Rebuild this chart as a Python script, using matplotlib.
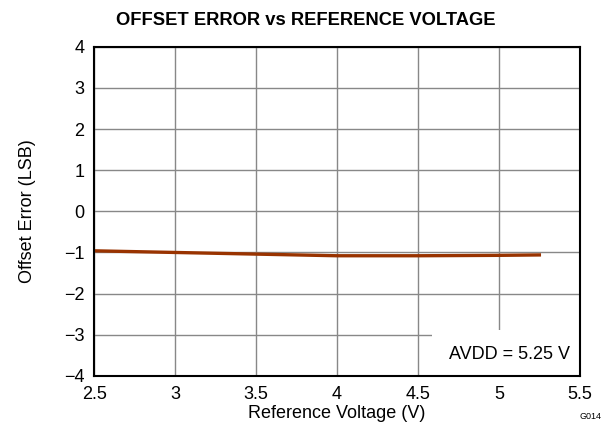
import matplotlib
matplotlib.use("Agg")
import matplotlib.pyplot as plt
from matplotlib.patches import Rectangle

plt.rcParams["font.family"] = ["Liberation Sans", "DejaVu Sans"]

ref_voltage = [2.5, 3.0, 3.5, 4.0, 4.5, 5.0, 5.25]
offset_error = [-0.96, -1.0, -1.04, -1.08, -1.08, -1.07, -1.06]

x_ticks = [2.5, 3, 3.5, 4, 4.5, 5, 5.5]
x_labels = ["2.5", "3", "3.5", "4", "4.5", "5", "5.5"]
y_ticks = [-4, -3, -2, -1, 0, 1, 2, 3, 4]
y_labels = ["\u22124", "\u22123", "\u22122", "\u22121", "0", "1", "2", "3", "4"]

fig = plt.figure(figsize=(6.11, 4.30), dpi=100)
ax = fig.add_axes([0.154, 0.126, 0.795, 0.765])

ax.plot(ref_voltage, offset_error, color="#993300", linewidth=2.4, zorder=3)

ax.set_xlim(2.5, 5.5)
ax.set_ylim(-4, 4)
ax.set_xticks(x_ticks)
ax.set_xticklabels(x_labels)
ax.set_yticks(y_ticks)
ax.set_yticklabels(y_labels)
ax.tick_params(length=0, labelsize=13)
ax.tick_params(axis="x", pad=7)
ax.tick_params(axis="y", pad=7)
ax.grid(True, color="#888888", linewidth=1.0)
for s in ax.spines.values():
    s.set_linewidth(1.5)
    s.set_color("black")
    s.set_zorder(6)

ax.set_xlabel("Reference Voltage (V)", fontsize=13, labelpad=2)
ax.set_ylabel("Offset Error (LSB)", fontsize=13, labelpad=20)
fig.suptitle("OFFSET ERROR vs REFERENCE VOLTAGE", fontsize=13.2, fontweight="bold", y=0.972)

# white label box hiding the grid in the lower right corner
ax.add_patch(Rectangle((0.695, 0.0), 0.305, 0.14, transform=ax.transAxes,
                       facecolor="white", edgecolor="none", zorder=4))
ax.text(0.856, 0.064, "AVDD = 5.25 V", transform=ax.transAxes, ha="center", va="center",
        fontsize=13, zorder=5)

fig.text(0.985, 0.022, "G014", ha="right", va="bottom", fontsize=6.5)

fig.savefig("out.png", dpi=100)
